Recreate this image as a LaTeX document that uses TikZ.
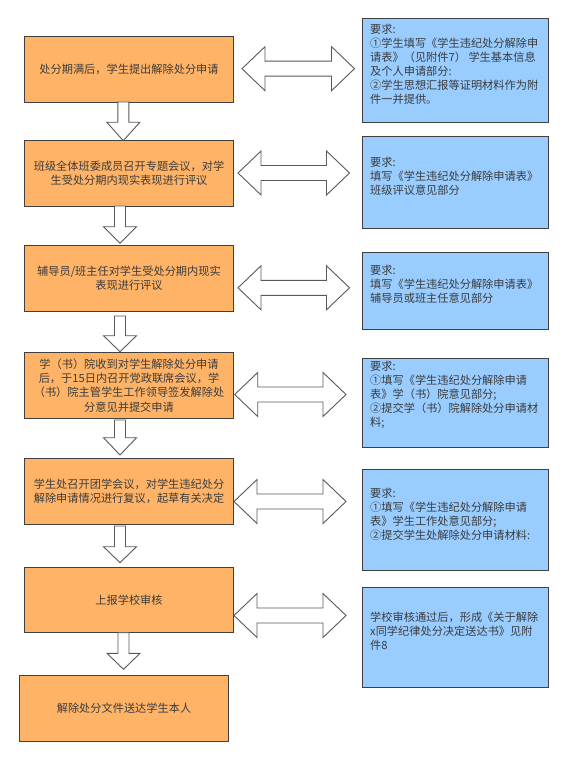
\documentclass[tikz,border=0pt]{standalone}
\usepackage{fontspec}
\setmainfont{Noto Sans CJK SC}
\definecolor{boxorange}{HTML}{FFB366}
\definecolor{boxblue}{HTML}{99CCFF}
\definecolor{edgegray}{HTML}{404040}
\definecolor{arrgray}{HTML}{595959}
\definecolor{txtgray}{HTML}{3C3C3C}
\newcommand\hdblarr[3]{%
  \draw[blockarr] (#1,#3) -- ({#1+23},{#3-22}) -- ({#1+23},{#3-7.5}) -- ({#2-23},{#3-7.5})
    -- ({#2-23},{#3-22}) -- (#2,#3) -- ({#2-23},{#3+22}) -- ({#2-23},{#3+7.5})
    -- ({#1+23},{#3+7.5}) -- ({#1+23},{#3+22}) -- cycle;}
\newcommand\vdownarr[4]{%
  \draw[blockarr] ({#1-5.5},#2) -- ({#1+5.5},#2) -- ({#1+5.5},#3) -- ({#1+16.5},#3)
    -- (#1,#4) -- ({#1-16.5},#3) -- ({#1-5.5},#3) -- cycle;}
\begin{document}
\begin{tikzpicture}[x=1pt,y=-1pt,
  lbox/.style={draw=edgegray,line width=1pt,fill=boxorange,rectangle,anchor=north west,
    inner sep=0pt,text width=#1,align=center,text=txtgray,
    font=\fontsize{11.2}{14.2}\selectfont},
  rbox/.style={draw=edgegray,line width=1pt,fill=boxblue,rectangle,anchor=north west,inner sep=0pt},
  rtext/.style={anchor=west,inner sep=0pt,align=left,text=txtgray,
    font=\fontsize{11.2}{14}\selectfont},
  blockarr/.style={draw=arrgray,line width=0.9pt,fill=white,line join=miter}]
\useasboundingbox (0,0) rectangle (566,759);
\fill[white] (0,0) rectangle (566,759);

% left boxes
\node[lbox=209pt,minimum height=66pt] (l1) at (24,36) {处分期满后，学生提出解除处分申请};
\node[lbox=209pt,minimum height=66pt] (l2) at (24,140) {班级全体班委成员召开专题会议，对学\\生受处分期内现实表现进行评议};
\node[lbox=209pt,minimum height=65.7pt] (l3) at (24,245) {辅导员/班主任对学生受处分期内现实\\表现进行评议};
\node[lbox=209pt,minimum height=65.4pt] (l4) at (24,352.3) {学（书）院收到对学生解除处分申请\\后，于15日内召开党政联席会议，学\\（书）院主管学生工作领导签发解除处\\分意见并提交申请};
\node[lbox=209pt,minimum height=65.7pt] (l5) at (24,458.3) {学生处召开团学会议，对学生违纪处分\\解除申请情况进行复议，起草有关决定};
\node[lbox=209pt,minimum height=65pt] (l6) at (24,567.3) {上报学校审核};
\node[lbox=209.6pt,minimum height=65.7pt] (l7) at (18.7,675) {解除处分文件送达学生本人};

% right boxes
\node[rbox,minimum width=186pt,minimum height=104pt] (r1) at (362,18.3) {};
\node[rbox,minimum width=186pt,minimum height=92.6pt] (r2) at (362,135.7) {};
\node[rbox,minimum width=186pt,minimum height=77.3pt] (r3) at (362,251.7) {};
\node[rbox,minimum width=186pt,minimum height=88.4pt] (r4) at (362,358.3) {};
\node[rbox,minimum width=186pt,minimum height=100.7pt] (r5) at (362,469.3) {};
\node[rbox,minimum width=186pt,minimum height=100.6pt] (r6) at (362,586.7) {};

\node[rtext] (t1) at (370,64.2) {要求:\\①学生填写《学生违纪处分解除申\\请表》（见附件7） 学生基本信息\\及个人申请部分:\\②学生思想汇报等证明材料作为附\\件一并提供。};
\node[rtext] (t2) at (370,176.5) {要求:\\填写《学生违纪处分解除申请表》\\班级评议意见部分};
\node[rtext] (t3) at (370,284.2) {要求:\\填写《学生违纪处分解除申请表》\\辅导员或班主任意见部分};
\node[rtext] (t4) at (370,394.5) {要求:\\①填写《学生违纪处分解除申请\\表》学（书）院意见部分;\\②提交学（书）院解除处分申请材\\料;};
\node[rtext] (t5) at (370,514.2) {要求:\\①填写《学生违纪处分解除申请\\表》学生工作处意见部分;\\②提交学生处解除处分申请材料:};
\node[rtext] (t6) at (370,630.8) {学校审核通过后，形成《关于解除\\x同学纪律处分决定送达书》见附\\件8};

% double arrows
\hdblarr{242}{354.5}{68.7}
\hdblarr{238}{349.5}{173}
\hdblarr{238}{349.5}{287.8}
\hdblarr{234.7}{346}{394.5}
\hdblarr{234}{346}{501.5}
\hdblarr{234}{346}{615.5}

% down arrows
\vdownarr{123.3}{102}{122.3}{140.7}
\vdownarr{120}{206}{226.7}{243.3}
\vdownarr{120}{316}{335.7}{351.7}
\vdownarr{120}{420}{437.7}{455}
\vdownarr{120}{526}{546.7}{562.7}
\vdownarr{123.5}{632.7}{653.3}{669.3}
\end{tikzpicture}
\end{document}
